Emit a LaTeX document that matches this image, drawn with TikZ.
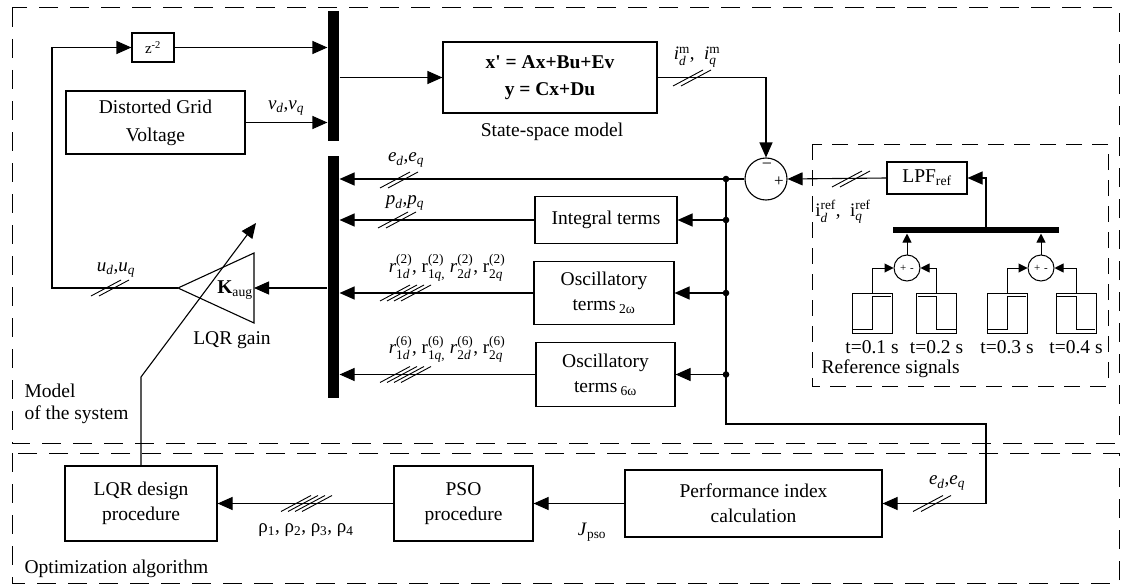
\documentclass[tikz,border=0pt]{standalone}
\usepackage{amsmath}
\usepackage{fontspec}
\setmainfont{Liberation Serif}
\usetikzlibrary{arrows.meta,calc}
\newcommand\mainsize{\fontsize{19.5}{25}\selectfont}
\newcommand\lblsize{\fontsize{19}{22}\selectfont}
\newcommand\smallsize{\fontsize{15}{18}\selectfont}
\newcommand\tinysize{\fontsize{11}{12}\selectfont}
\tikzset{
  txt/.style={inner sep=0pt, font=\mainsize},
  lbl/.style={inner sep=0pt, font=\lblsize},
  box/.style={draw, line width=1.1pt, inner sep=2pt, align=center, font=\mainsize},
  barnode/.style={fill=black, draw=none, inner sep=0pt},
  sigbox/.style={draw, line width=1pt, inner sep=0pt, minimum width=40, minimum height=40},
  arr/.style={-{Triangle[length=15pt,width=13pt]}},
  sarr/.style={line width=1pt, -{Triangle[length=9pt,width=9pt]}},
  dashreg/.style={line width=1pt, dash pattern=on 19pt off 12pt},
  dashref/.style={line width=1pt, dash pattern=on 16pt off 10pt},
  pics/sltwo/.style={code={\foreach \k in {0,1} {\draw[line width=0.9pt] (-19+8*\k,8) -- (11+8*\k,-8);}}},
  pics/slfour/.style={code={\foreach \k in {0,...,3} {\draw[line width=0.9pt] (-26+7*\k,8) -- (4+7*\k,-8);}}},
}
\begin{document}
\begin{tikzpicture}[x=1pt,y=-1pt,line width=1.1pt]
\useasboundingbox (0,0) rectangle (1124,586);
% regions
\draw[dashreg] (12,8) rectangle (1119,443);
\draw[dashreg] (12,453) rectangle (1119,583);
\draw[dashref] (812,144) rectangle (1108,386);
\node[txt, anchor=west, align=left, font=\fontsize{19.5}{22}\selectfont] (modlbl) at (24,404) {Model\\of the system};
\node[txt, anchor=west] (optlbl) at (24,569) {Optimization algorithm};
\node[txt, anchor=west] (reflbl) at (821,369) {Reference signals};

% top part
\node[box, minimum width=42, minimum height=29, font=\smallsize] (z2) at (153,47.5) {z$^{\text{-2}}$};
\node[box, minimum width=179, minimum height=63, font=\fontsize{19.5}{28}\selectfont] (dgv) at (155.5,122.5) {Distorted Grid\\Voltage};
\node[box, minimum width=214, minimum height=71, font=\fontsize{19.5}{27}\selectfont\bfseries] (ss) at (550,77.5) {x\textquotesingle{} = Ax+Bu+Ev\\y = Cx+Du};
\node[txt] (sslbl) at (552,132) {State-space model};
\node[barnode, minimum width=11, minimum height=130] (bar1) at (333.5,76) {};
\node[barnode, minimum width=11, minimum height=242] (bar2) at (333.5,277) {};
\node[circle, draw, minimum size=42, inner sep=0pt] (sum) at (766,179) {};
\node[txt, font=\fontsize{18}{18}\selectfont] (minus) at (767,166) {−};
\node[txt, font=\fontsize{17}{17}\selectfont] (plus) at (779,182) {+};

\node[box, minimum width=142, minimum height=47] (integ) at (606,220) {Integral terms};
\node[box, minimum width=140, minimum height=63] (osc2) at (604,293) {Oscillatory\\terms\,$_{\text{2ω}}$};
\node[box, minimum width=139, minimum height=64] (osc6) at (605.5,374.5) {Oscillatory\\terms\,$_{\text{6ω}}$};

% LQR gain triangle
\coordinate (kA) at (178,288);
\coordinate (kR) at (254,288);
\draw (kA) -- (254,253) -- (254,323) -- cycle;
\node[txt] (kaug) at (235,290) {\textbf{K}$_{\text{aug}}$};
\node[txt] (lqrg) at (232,340) {LQR gain};

% bottom part
\node[box, minimum width=152, minimum height=75] (lqrd) at (141,503.5) {LQR design\\procedure};
\node[box, minimum width=139, minimum height=75] (pso) at (463.5,503.5) {PSO\\procedure};
\node[box, minimum width=257, minimum height=67] (perf) at (753.5,503.5) {Performance index\\calculation};

% reference signals
\node[box, minimum width=80, minimum height=32] (lpf) at (927,178) {LPF$_{\text{ref}}$};
\node[barnode, minimum width=166, minimum height=6] (bar3) at (976,230) {};
\node[circle, draw, line width=1pt, minimum size=26, inner sep=0pt] (s1) at (907,268) {};
\node[circle, draw, line width=1pt, minimum size=26, inner sep=0pt] (s2) at (1041,268) {};
\node[txt, font=\tinysize] (s1t) at (907,268) {+\,\,-};
\node[txt, font=\tinysize] (s2t) at (1041,268) {+\,\,-};
\node[sigbox] (g1) at (872,313) {};
\node[sigbox] (g2) at (936.5,313) {};
\node[sigbox] (g3) at (1007,313) {};
\node[sigbox] (g4) at (1076,313) {};
\draw[line width=1pt] ($(g1)+(-19,16)$) -- ($(g1)+(0,16)$) -- ($(g1)+(0,-17)$) -- ($(g1)+(19,-17)$);
\draw[line width=1pt] ($(g2)+(-19,-17)$) -- ($(g2)+(0,-17)$) -- ($(g2)+(0,16)$) -- ($(g2)+(19,16)$);
\draw[line width=1pt] ($(g3)+(-19,16)$) -- ($(g3)+(0,16)$) -- ($(g3)+(0,-17)$) -- ($(g3)+(19,-17)$);
\draw[line width=1pt] ($(g4)+(-19,-17)$) -- ($(g4)+(0,-17)$) -- ($(g4)+(0,16)$) -- ($(g4)+(19,16)$);
\node[txt] (t1) at (872,347) {t=0.1 s};
\node[txt] (t2) at (936.5,347) {t=0.2 s};
\node[txt] (t3) at (1007,347) {t=0.3 s};
\node[txt] (t4) at (1076,347) {t=0.4 s};

% coordinates
\coordinate (fb1) at (52,288);
\coordinate (fb2) at (52,47.5);
\coordinate (j1) at (726,179);
\coordinate (j2) at (726,220);
\coordinate (j3) at (726,293);
\coordinate (j4) at (726,374.5);
\coordinate (c1) at (726,424);
\coordinate (c2) at (986,424);
\coordinate (b3t) at (986,227);
\coordinate (dg1) at (141,377);
\coordinate (dg2) at (256,223);

% connectors
\draw[arr] (kA) -- (fb1) -- (fb2) -- (z2.west);
\draw[arr] (z2.east) -- (z2.east -| bar1.west);
\draw[arr] (dgv.east) -- (dgv.east -| bar1.west);
\draw[arr] (bar1.east |- ss.west) -- (ss.west);
\draw[arr] (ss.east) -- (sum.north |- ss.east) -- (sum.north);
\draw[arr] (sum.west) -- (sum.west -| bar2.east);
\draw[arr] (j1) -- (c1) -- (c2) -- (c2 |- perf.east) -- (perf.east);
\draw[arr] (j2) -- (integ.east);
\draw[arr] (j3) -- (osc2.east);
\draw[arr] (j4) -- (osc6.east);
\draw[arr] (integ.west) -- (integ.west -| bar2.east);
\draw[arr] (osc2.west) -- (osc2.west -| bar2.east);
\draw[arr] (osc6.west) -- (osc6.west -| bar2.east);
\draw[arr] (bar2.west |- kR) -- (kR);
\draw[arr] (lpf.west) -- (sum.east);
\draw[arr] (b3t) -- (b3t |- lpf.east) -- (lpf.east);
\draw[sarr] (s1.north) -- (s1.north |- bar3.south);
\draw[sarr] (s2.north) -- (s2.north |- bar3.south);
\draw[sarr] (g1.north) -- (g1.north |- s1.west) -- (s1.west);
\draw[sarr] (g2.north) -- (g2.north |- s1.east) -- (s1.east);
\draw[sarr] (g3.north) -- (g3.north |- s2.west) -- (s2.west);
\draw[sarr] (g4.north) -- (g4.north |- s2.east) -- (s2.east);
\draw[arr] (perf.west) -- (pso.east);
\draw[arr] (pso.west) -- (lqrd.east);
\draw[arr] (lqrd.north) -- (dg1) -- (dg2);
\foreach \p in {j1,j2,j3,j4} {\fill (\p) circle (3.3);}

% labels and bus marks
\node[lbl] (vlbl) at (286,108) {\textit{v}$_{\text{\textit{d}}}$,\textit{v}$_{\text{\textit{q}}}$};
\node[lbl] (imlbl) at (697,57) {\textit{i}$^{\text{m}}_{\text{\textit{d}}}$,\ \ \textit{i}$^{\text{m}}_{\text{\textit{q}}}$};
\pic at (692,78) {sltwo};
\node[lbl] (elbl) at (406,160) {\textit{e}$_{\text{\textit{d}}}$,\textit{e}$_{\text{\textit{q}}}$};
\pic at (399,180) {sltwo};
\node[lbl] (plbl) at (405,203) {\textit{p}$_{\text{\textit{d}}}$,\textit{p}$_{\text{\textit{q}}}$};
\pic at (397,220) {sltwo};
\node[lbl] (r2lbl) at (447,268) {\textit{r}$^{\text{(2)}}_{\text{1\textit{d}}}$, r$^{\text{(2)}}_{\text{1\textit{q},}}$ \textit{r}$^{\text{(2)}}_{\text{2\textit{d}}}$, r$^{\text{(2)}}_{\text{2\textit{q}}}$};
\pic at (406,293) {slfour};
\node[lbl] (r6lbl) at (447,349) {\textit{r}$^{\text{(6)}}_{\text{1\textit{d}}}$, r$^{\text{(6)}}_{\text{1\textit{q},}}$ \textit{r}$^{\text{(6)}}_{\text{2\textit{d}}}$, r$^{\text{(6)}}_{\text{2\textit{q}}}$};
\pic at (406,374.5) {slfour};
\node[lbl] (ulbl) at (116,270) {\textit{u}$_{\text{\textit{d}}}$,\textit{u}$_{\text{\textit{q}}}$};
\pic at (110,288) {sltwo};
\node[lbl] (ireflbl) at (843,212) {i$^{\text{ref}}_{\text{\textit{d}}}$,\ \ i$^{\text{ref}}_{\text{\textit{q}}}$};
\pic at (851,179) {sltwo};
\node[lbl] (rholbl) at (306,530) {ρ$_{\text{1}}$, ρ$_{\text{2}}$, ρ$_{\text{3}}$, ρ$_{\text{4}}$};
\pic at (307,503.5) {slfour};
\node[lbl] (jlbl) at (592,532) {\textit{J}$_{\text{pso}}$};
\node[lbl] (e2lbl) at (947,483) {\textit{e}$_{\text{\textit{d}}}$,\textit{e}$_{\text{\textit{q}}}$};
\pic at (932,503.5) {sltwo};
\end{tikzpicture}
\end{document}
